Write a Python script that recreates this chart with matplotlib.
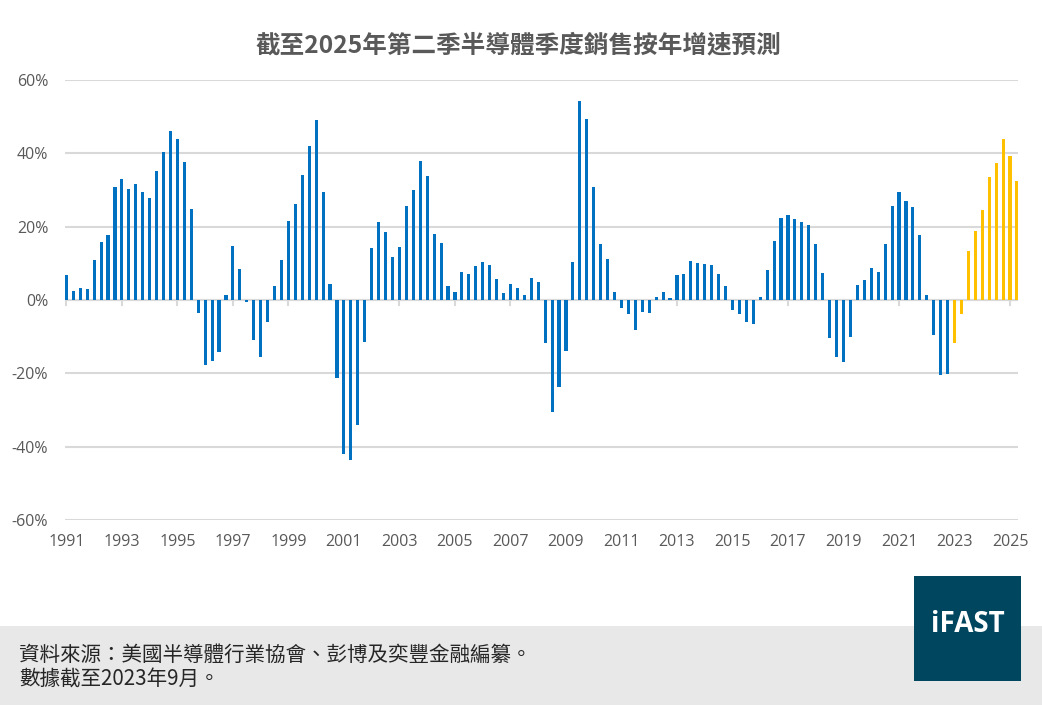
import matplotlib
matplotlib.use("Agg")
import matplotlib.pyplot as plt
from matplotlib.patches import Rectangle
import numpy as np

plt.rcParams['font.family'] = ['Noto Sans CJK TC', 'DejaVu Sans']

# Quarterly YoY growth (%), 1991 Q1 .. 2022 Q4 (actual)
actual = [6.7, 2.5, 3.2, 2.9, 10.8, 15.7, 17.7, 30.8,
          32.9, 30.3, 31.6, 29.4, 27.8, 35.1, 40.4, 46.0,
          43.9, 37.6, 24.8, -3.6, -17.6, -16.7, -14.3, 1.4,
          14.7, 8.4, -0.5, -11.0, -15.6, -6.1, 3.7, 10.8,
          21.5, 26.1, 34.0, 42.0, 49.0, 29.4, 4.3, -21.2,
          -42.0, -43.5, -34.2, -11.4, 14.1, 21.2, 18.5, 11.6,
          14.4, 25.6, 29.9, 37.9, 33.8, 17.9, 15.5, 3.7,
          2.2, 7.6, 7.0, 9.2, 10.3, 9.6, 5.6, 1.8,
          4.3, 3.2, 1.3, 6.0, 4.9, -11.6, -30.5, -23.7,
          -13.8, 10.3, 54.2, 49.3, 30.8, 15.2, 11.1, 2.1,
          -2.1, -3.7, -8.3, -3.2, -3.5, 0.7, 2.2, 0.5,
          6.7, 7.1, 10.6, 10.0, 9.8, 9.6, 7.0, 3.7,
          -2.6, -3.9, -6.1, -6.6, 0.7, 8.1, 16.0, 22.3,
          23.1, 22.0, 21.2, 20.4, 15.2, 7.3, -10.3, -15.5,
          -17.0, -10.0, 4.0, 5.4, 8.6, 7.6, 15.2, 25.6,
          29.4, 26.9, 25.3, 17.7, 1.3, -9.6, -20.5, -20.1]
# Forecast, 2023 Q1 .. 2025 Q2
forecast = [-11.8, -3.9, 13.3, 18.7, 24.5, 33.5, 37.3, 43.9, 39.2, 32.4]

years = list(range(1991, 2026, 2))
yticks = [-60, -40, -20, 0, 20, 40, 60]

title = '截至2025年第二季半導體季度銷售按年增速預測'
source_line1 = '資料來源：美國半導體行業協會、彭博及奕豐金融編纂。'
source_line2 = '數據截至2023年9月。'

W, H = 1042, 705
fig = plt.figure(figsize=(W / 100, H / 100), dpi=100)
fig.patch.set_facecolor('white')

# footer band
fig.patches.append(Rectangle((0, 0), 1, (H - 626) / H, transform=fig.transFigure,
                             facecolor='#e8e8e8', edgecolor='none', zorder=0))

ax = fig.add_axes([65 / W, 1 - 520 / H, (1018 - 65) / W, (520 - 80) / H])
ax.set_facecolor('white')

n_act = len(actual)
x_act = np.arange(n_act)
x_fc = np.arange(n_act, n_act + len(forecast))
ax.bar(x_act, actual, width=0.45, color='#0070C0', zorder=3)
ax.bar(x_fc, forecast, width=0.45, color='#FFC000', zorder=3)

ax.set_ylim(-60, 60)
ax.set_xlim(-0.2, n_act + len(forecast) - 1 + 0.15)
ax.set_yticks(yticks)
ax.set_yticklabels([f'{v}%' for v in yticks])
ax.yaxis.grid(True, color='#d9d9d9', linewidth=1.5, zorder=0)
ax.set_axisbelow(True)
for s in ax.spines.values():
    s.set_visible(False)
ax.axhline(0, color='#d9d9d9', linewidth=1.5, zorder=1)

ax.tick_params(axis='y', length=0, labelsize=11.5, labelcolor='#595959', pad=12)
ax.set_xticks([8 * i for i in range(len(years))])
ax.set_xticklabels([str(y) for y in years])
ax.tick_params(axis='x', length=0, labelsize=11.5, labelcolor='#595959', pad=10)
for i in range(len(years)):
    ax.plot([8 * i, 8 * i], [0, -1.4], color='#d9d9d9', linewidth=1.5, zorder=1,
            clip_on=False)
for lab in ax.get_xticklabels() + ax.get_yticklabels():
    lab.set_family(['Open Sans', 'DejaVu Sans'])

fig.text(518 / W, 1 - 45 / H, title, ha='center', va='center', fontsize=17.7,
         fontweight='bold', color='#595959')

fig.text(19 / W, 1 - 655 / H, source_line1, ha='left', va='center', fontsize=14.8,
         color='#262626')
fig.text(19 / W, 1 - 680 / H, source_line2, ha='left', va='center', fontsize=14.8,
         color='#262626')

# logo box
fig.patches.append(Rectangle((914 / W, 1 - 681 / H), (1021 - 914) / W, (681 - 576) / H,
                             transform=fig.transFigure, facecolor='#00465f',
                             edgecolor='none', zorder=2))
fig.text(968 / W, 1 - 625 / H, 'iFAST', ha='center', va='center', fontsize=20,
         fontweight='bold', color='white', family=['Open Sans', 'DejaVu Sans'], zorder=3)

fig.savefig('out.png', dpi=100, facecolor='white')
